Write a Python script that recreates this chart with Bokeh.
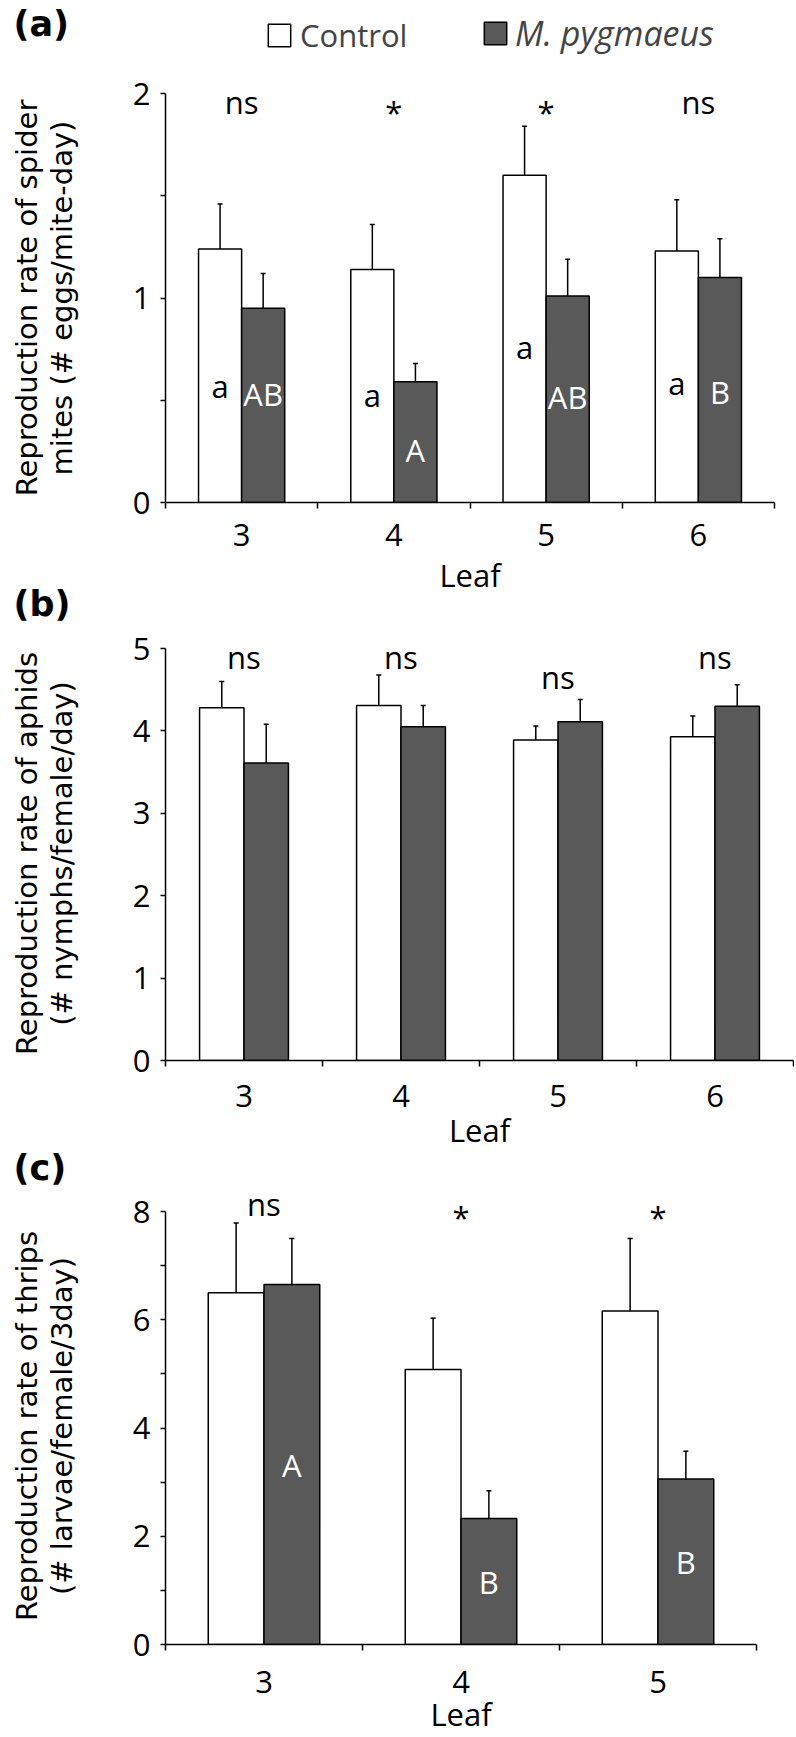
import numpy as np
from bokeh.plotting import figure
from bokeh.layouts import column, row
from bokeh.models import (Range1d, FixedTicker, Whisker, TeeHead, ColumnDataSource,
                          Legend, LegendItem)
from bokeh.embed import file_html
from bokeh.resources import INLINE
from bokeh.core.properties import value

# ---------------- data ----------------
# (a) spider mites
leaves_a = ["3", "4", "5", "6"]
ctrl_a = [1.24, 1.14, 1.60, 1.23]
ctrl_a_se = [0.22, 0.22, 0.24, 0.25]
myg_a = [0.95, 0.59, 1.01, 1.10]
myg_a_se = [0.17, 0.09, 0.18, 0.19]
sig_a = ["ns", "*", "*", "ns"]
sig_a_y = [1.958, 1.909, 1.909, 1.958]
ctrl_a_let = ["a", "a", "a", "a"]
ctrl_a_let_y = [0.572, 0.525, 0.76, 0.585]
myg_a_let = ["AB", "A", "AB", "B"]
myg_a_let_y = [0.533, 0.255, 0.515, 0.54]

# (b) aphids
leaves_b = ["3", "4", "5", "6"]
ctrl_b = [4.28, 4.31, 3.89, 3.93]
ctrl_b_se = [0.32, 0.37, 0.17, 0.25]
myg_b = [3.61, 4.05, 4.11, 4.30]
myg_b_se = [0.47, 0.26, 0.27, 0.26]
sig_b = ["ns", "ns", "ns", "ns"]
sig_b_y = [4.90, 4.90, 4.65, 4.90]

# (c) thrips
leaves_c = ["3", "4", "5"]
ctrl_c = [6.50, 5.08, 6.16]
ctrl_c_se = [1.29, 0.95, 1.34]
myg_c = [6.65, 2.33, 3.06]
myg_c_se = [0.85, 0.51, 0.51]
sig_c = ["ns", "*", "*"]
sig_c_y = [8.13, 7.90, 7.90]
myg_c_let = ["A", "B", "B"]
myg_c_let_y = [3.32, 1.16, 1.53]

tags = ["(a)", "(b)", "(c)"]
ylab_a = ["Reproduction rate of spider", "mites (# eggs/mite-day)"]
ylab_b = ["Reproduction rate of aphids", "(# nymphs/female/day)"]
ylab_c = ["Reproduction rate of thrips", "(# larvae/female/3day)"]
xlab = "Leaf"

DARK = "#595959"
FONT = "Open Sans"
FS = "31px"
BW = 0.283
LEFT_W = 126
TOTAL_H = 1734

# page rows (from the top) where the panel tags and the y-title centres sit
tag_rows = [23.5, 603, 1167]
title_rows = [297.5, 853, 1425.5]


def side_column():
    """One tall strip on the left with the panel tags and the two-line y-axis titles."""
    s = figure(width=LEFT_W, height=TOTAL_H, x_range=Range1d(0, LEFT_W),
               y_range=Range1d(0, TOTAL_H), x_axis_type=None, y_axis_type=None,
               min_border=0, toolbar_location=None, output_backend="svg")
    s.outline_line_color = None
    s.text(x=[13] * 3, y=[TOTAL_H - r for r in tag_rows], text=tags,
           text_font=value("DejaVu Sans"), text_font_style="bold",
           text_font_size=value("35px"), text_align="left",
           text_baseline="alphabetic", text_color="black")
    for lab, r in zip((ylab_a, ylab_b, ylab_c), title_rows):
        s.text(x=[26, 61], y=[TOTAL_H - r] * 2, text=lab, angle=np.pi / 2,
               text_font=value("DejaVu Sans"), text_font_size=value("29px"),
               text_align="center", text_baseline="alphabetic", text_color="black")
    return s


def panel(leaves, ctrl, ctrl_se, myg, myg_se, sig, sig_y,
          yticks, yminor, ymax, yend, fw, fh, bl, br, bt, bb, s1, s2,
          ctrl_let=None, ctrl_let_y=None, myg_let=None, myg_let_y=None, legend=False):
    n = len(leaves)
    p = figure(frame_width=fw, frame_height=fh, output_backend="svg", toolbar_location=None,
               x_range=Range1d(0, n), y_range=Range1d(0, yend),
               min_border_left=bl, min_border_right=br, min_border_top=bt,
               min_border_bottom=bb)
    p.outline_line_color = None
    p.grid.visible = False
    centers = np.arange(n) + 0.5
    xc = centers - BW / 2
    xm = centers + BW / 2

    rc = p.vbar(x=xc, top=ctrl, width=BW, fill_color="white", line_color="black", line_width=1.5)
    rm = p.vbar(x=xm, top=myg, width=BW, fill_color=DARK, line_color="black", line_width=1.5)

    for xs, m, se in ((xc, ctrl, ctrl_se), (xm, myg, myg_se)):
        src = ColumnDataSource(dict(x=xs, lo=m, up=np.array(m) + np.array(se)))
        p.add_layout(Whisker(base="x", lower="lo", upper="up", source=src, dimension="height",
                             line_color="black", line_width=1.5,
                             upper_head=TeeHead(size=5, line_width=1.5, line_color="black"),
                             lower_head=None))

    p.text(x=centers, y=sig_y, text=sig, text_font=value(FONT), text_font_size=value(FS),
           text_align="center", text_baseline="alphabetic", text_color="black")
    if ctrl_let is not None:
        p.text(x=xc, y=ctrl_let_y, text=ctrl_let, text_font=value(FONT), text_font_size=value(FS),
               text_align="center", text_baseline="alphabetic", text_color="black")
    if myg_let is not None:
        p.text(x=xm, y=myg_let_y, text=myg_let, text_font=value(FONT), text_font_size=value(FS),
               text_align="center", text_baseline="alphabetic", text_color="white")

    # x axis: ticks at category boundaries, labels at centers
    xa = p.xaxis[0]
    xa.ticker = FixedTicker(ticks=list(centers), minor_ticks=list(np.arange(n + 1)))
    xa.major_label_overrides = {float(c): lab for c, lab in zip(centers, leaves)}
    xa.major_tick_line_color = None
    xa.minor_tick_out = 6
    xa.minor_tick_in = 0
    xa.minor_tick_line_color = "black"
    xa.minor_tick_line_width = 1.5
    xa.axis_line_width = 1.5
    xa.axis_line_color = "black"
    xa.major_label_text_font = FONT
    xa.major_label_text_font_size = FS
    xa.major_label_text_color = "black"
    xa.major_label_standoff = s1
    xa.axis_label = xlab
    xa.axis_label_text_font = FONT
    xa.axis_label_text_font_size = FS
    xa.axis_label_text_font_style = "normal"
    xa.axis_label_text_color = "black"
    xa.axis_label_standoff = s2

    ya = p.yaxis[0]
    ya.ticker = FixedTicker(ticks=yticks, minor_ticks=yminor)
    ya.bounds = (0, ymax)
    ya.axis_line_width = 1.5
    ya.axis_line_color = "black"
    ya.major_tick_out = 5
    ya.major_tick_in = 0
    ya.minor_tick_out = 5
    ya.minor_tick_in = 0
    ya.major_tick_line_width = 1.5
    ya.minor_tick_line_width = 1.5
    ya.major_tick_line_color = "black"
    ya.minor_tick_line_color = "black"
    ya.major_label_text_font = FONT
    ya.major_label_text_font_size = FS
    ya.major_label_text_color = "black"
    ya.major_label_standoff = 10

    if legend:
        common = dict(glyph_width=28, glyph_height=28, padding=0, margin=0, spacing=0,
                      border_line_alpha=0, background_fill_alpha=0, label_text_font=FONT)
        p.add_layout(Legend(items=[LegendItem(label="Control", renderers=[rc])],
                            location=(100, 446), label_standoff=7,
                            label_text_font_size=FS, **common))
        p.add_layout(Legend(items=[LegendItem(label="M. pygmaeus", renderers=[rm])],
                            location=(316, 446), label_standoff=6,
                            label_text_font_size="34px",
                            label_text_font_style="italic", **common))
    return p


# panel (a): page rows 0..597
pa = panel(leaves_a, ctrl_a, ctrl_a_se, myg_a, myg_a_se, sig_a, sig_a_y,
           [0, 1, 2], [0.5, 1.5], 2, 2.406, 609, 492, 37, 22, 10, 95, 15, 5,
           ctrl_a_let, ctrl_a_let_y, myg_a_let, myg_a_let_y, legend=True)
# panel (b): page rows 597..1151
pb = panel(leaves_b, ctrl_b, ctrl_b_se, myg_b, myg_b_se, sig_b, sig_b_y,
           [0, 1, 2, 3, 4, 5], [], 5, 5.583, 628, 460, 37, 3, 2, 92, 18, -1)
# panel (c): page rows 1151..1734
pc = panel(leaves_c, ctrl_c, ctrl_c_se, myg_c, myg_c_se, sig_c, sig_c_y,
           [0, 2, 4, 6, 8], [1, 3, 5, 7], 8, 9.035, 591, 489, 39, 38, 2, 92, 20, -3,
           None, None, myg_c_let, myg_c_let_y)

layout = row(side_column(), column(pa, pb, pc, spacing=0), spacing=0)
open("out.html", "w").write(file_html(layout, INLINE))
